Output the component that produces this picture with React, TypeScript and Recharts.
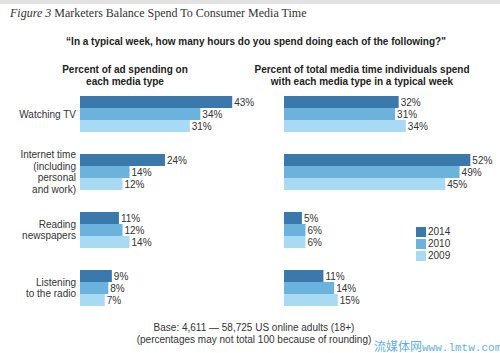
import React from "react";
import { BarChart, Bar, XAxis, YAxis, LabelList } from "recharts";

const categories = ["Watching TV", "Internet time", "Reading newspapers", "Listening to the radio"];
const categoryLines = [
  ["Watching TV"],
  ["Internet time", "(including", "personal", "and work)"],
  ["Reading", "newspapers"],
  ["Listening", "to the radio"],
];
const years = ["2014", "2010", "2009"];
const adSpend2014 = [43, 24, 11, 9];
const adSpend2010 = [34, 14, 12, 8];
const adSpend2009 = [31, 12, 14, 7];
const mediaTime2014 = [32, 52, 5, 11];
const mediaTime2010 = [31, 49, 6, 14];
const mediaTime2009 = [34, 45, 6, 15];

const colors = ["#3b78ab", "#6bb2dd", "#a9daf3"];
const SANS = "'Liberation Sans', Arial, Helvetica, sans-serif";

const adData = categories.map((name, i) => ({
  name,
  y2014: adSpend2014[i],
  y2010: adSpend2010[i],
  y2009: adSpend2009[i],
}));
const timeData = categories.map((name, i) => ({
  name,
  y2014: mediaTime2014[i],
  y2010: mediaTime2010[i],
  y2009: mediaTime2009[i],
}));

const CatTick = (props: any) => {
  const { y, payload } = props;
  const idx = categories.indexOf(payload.value);
  const lines = categoryLines[idx] || [payload.value];
  const lh = 11.7;
  const start = y - ((lines.length - 1) * lh) / 2 + 3.5;
  return (
    <text x={76} y={start} textAnchor="end" fontSize={10} fill="#333" fontFamily={SANS}>
      {lines.map((l, k) => (
        <tspan key={k} x={76} y={start + k * lh}>
          {l}
        </tspan>
      ))}
    </text>
  );
};

const pct = (v: any) => `${v}%`;

const renderBars = () =>
  ["y2014", "y2010", "y2009"].map((k, i) => (
    <Bar key={k} dataKey={k} fill={colors[i]} isAnimationActive={false}>
      <LabelList dataKey={k} position="right" offset={2} formatter={pct} fontSize={10} fill="#333" fontFamily={SANS} />
    </Bar>
  ));

export default function App() {
  return (
    <div
      style={{
        position: "absolute",
        left: 0,
        top: 0,
        width: 500,
        height: 353,
        background: "#fff",
        overflow: "hidden",
        fontFamily: SANS,
        color: "#222",
      }}
    >
      <div style={{ position: "absolute", left: 0, top: 0, width: 500, height: 4, background: "#e2e2e2" }} />
      <div
        style={{
          position: "absolute",
          left: 10,
          top: 5,
          fontFamily: "'Liberation Serif', 'DejaVu Serif', serif",
          fontSize: 12,
          lineHeight: "16px",
          color: "#333",
          whiteSpace: "nowrap",
        }}
      >
        <i>Figure 3</i> Marketers Balance Spend To Consumer Media Time
      </div>
      <div
        style={{
          position: "absolute",
          left: 0,
          width: 512,
          top: 36,
          textAlign: "center",
          fontSize: 10,
          fontWeight: "bold",
          whiteSpace: "nowrap",
        }}
      >
        “In a typical week, how many hours do you spend doing each of the following?"
      </div>
      <div
        style={{
          position: "absolute",
          left: 25,
          width: 200,
          top: 64,
          textAlign: "center",
          fontSize: 10,
          fontWeight: "bold",
          lineHeight: "12px",
        }}
      >
        Percent of ad spending on
        <br />
        each media type
      </div>
      <div
        style={{
          position: "absolute",
          left: 232,
          width: 260,
          top: 64,
          textAlign: "center",
          fontSize: 10,
          fontWeight: "bold",
          lineHeight: "12px",
          whiteSpace: "nowrap",
        }}
      >
        Percent of total media time individuals spend
        <br />
        with each media type in a typical week
      </div>

      <div style={{ position: "absolute", left: 0, top: 0 }}>
        <BarChart
          width={260}
          height={320}
          data={adData}
          layout="vertical"
          margin={{ top: 85, right: 3, bottom: 3, left: 0 }}
          barCategoryGap={11}
          barGap={0}
        >
          <XAxis type="number" domain={[0, 50]} hide />
          <YAxis
            type="category"
            dataKey="name"
            width={80}
            axisLine={false}
            tickLine={false}
            tick={<CatTick />}
            interval={0}
          />
          {renderBars()}
        </BarChart>
      </div>

      <div style={{ position: "absolute", left: 284, top: 0 }}>
        <BarChart
          width={216}
          height={320}
          data={timeData}
          layout="vertical"
          margin={{ top: 85, right: 1, bottom: 3, left: 0 }}
          barCategoryGap={11}
          barGap={0}
        >
          <XAxis type="number" domain={[0, 60]} hide />
          <YAxis type="category" dataKey="name" hide />
          {renderBars()}
        </BarChart>
      </div>

      {years.map((y, i) => (
        <div key={y} style={{ position: "absolute", left: 416, top: 227 + i * 12, height: 10 }}>
          <div style={{ position: "absolute", left: 0, top: 0, width: 10, height: 10, background: colors[i] }} />
          <div style={{ position: "absolute", left: 12, top: -1, fontSize: 10, color: "#333", lineHeight: "12px" }}>{y}</div>
        </div>
      ))}

      <div
        style={{
          position: "absolute",
          left: 54,
          width: 400,
          top: 322,
          textAlign: "center",
          fontSize: 10,
          lineHeight: "12px",
          color: "#333",
          whiteSpace: "nowrap",
        }}
      >
        Base: 4,611 — 58,725 US online adults (18+)
        <br />
        (percentages may not total 100 because of rounding)
      </div>

      <div
        style={{
          position: "absolute",
          left: 374,
          top: 339,
          fontSize: 12,
          lineHeight: "14px",
          color: "#4aa3d6",
          opacity: 0.85,
          whiteSpace: "nowrap",
        }}
      >
        <span style={{ fontFamily: "'Noto Sans CJK SC', sans-serif" }}>流媒体网</span>
        <span style={{ fontFamily: "'Liberation Mono', monospace", fontSize: 11 }}>www.lmtw.com</span>
      </div>
    </div>
  );
}
